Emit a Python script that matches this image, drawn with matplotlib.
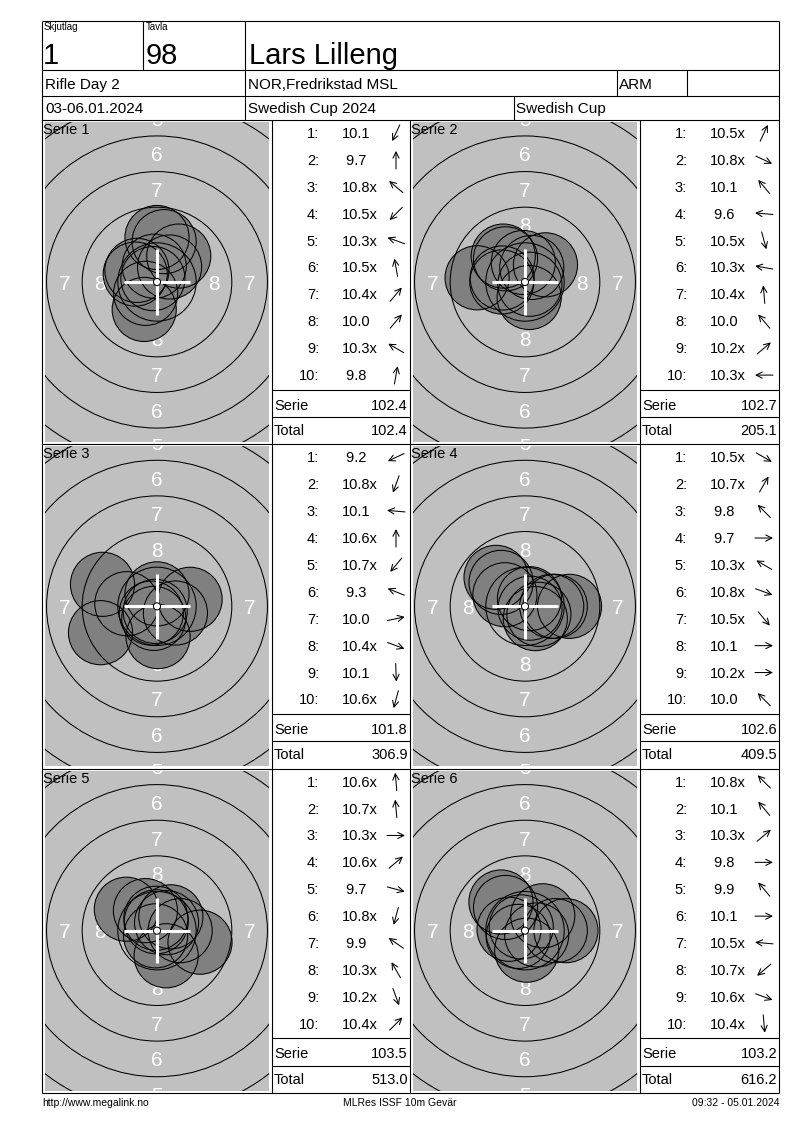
import numpy as np
import matplotlib.pyplot as plt
from matplotlib.patches import Circle

plt.rcParams['font.family'] = ['Liberation Sans', 'DejaVu Sans']

# header fields
relay, lane, shooter = '1', '98', 'Lars Lilleng'
event, club, klass = 'Rifle Day 2', 'NOR,Fredrikstad MSL', 'ARM'
dates, competition, cup = '03-06.01.2024', 'Swedish Cup 2024', 'Swedish Cup'
footer_left, footer_mid, footer_right = 'http://www.megalink.no', 'MLRes ISSF 10m Gevär', '09:32 - 05.01.2024'

# shot values ("x" = inner ten) and shot direction in degrees (0 = right, 90 = up)
s1_scores = ['10.1', '9.7', '10.8x', '10.5x', '10.3x', '10.5x', '10.4x', '10.0', '10.3x', '9.8']
s1_dirs = [245, 90, 140, 225, 160, 100, 50, 50, 150, 80]
s2_scores = ['10.5x', '10.8x', '10.1', '9.6', '10.5x', '10.3x', '10.4x', '10.0', '10.2x', '10.3x']
s2_dirs = [65, 335, 130, 175, 285, 170, 95, 130, 40, 180]
s3_scores = ['9.2', '10.8x', '10.1', '10.6x', '10.7x', '9.3', '10.0', '10.4x', '10.1', '10.6x']
s3_dirs = [205, 250, 175, 90, 230, 158, 12, 340, 272, 255]
s4_scores = ['10.5x', '10.7x', '9.8', '9.7', '10.3x', '10.8x', '10.5x', '10.1', '10.2x', '10.0']
s4_dirs = [330, 60, 135, 0, 150, 340, 310, 0, 0, 135]
s5_scores = ['10.6x', '10.7x', '10.3x', '10.6x', '9.7', '10.8x', '9.9', '10.3x', '10.2x', '10.4x']
s5_dirs = [95, 95, 0, 40, 345, 255, 145, 120, 290, 45]
s6_scores = ['10.8x', '10.1', '10.3x', '9.8', '9.9', '10.1', '10.5x', '10.7x', '10.6x', '10.4x']
s6_dirs = [135, 130, 40, 0, 130, 0, 175, 220, 340, 275]

serie_sums = [102.4, 102.7, 101.8, 102.6, 103.5, 103.2]
totals = [102.4, 205.1, 306.9, 409.5, 513.0, 616.2]

all_scores = [s1_scores, s2_scores, s3_scores, s4_scores, s5_scores, s6_scores]
all_dirs = [s1_dirs, s2_dirs, s3_dirs, s4_dirs, s5_dirs, s6_dirs]

W, H = 800, 1130
PX = 14.25          # pixels per mm on the target pictures
PELLET = 2.25       # pellet radius, mm
BLOCK = (1093 - 120) / 3
cols = [(42, 272, 410), (410, 640, 779)]


def ring_radius(n):
    # outer radius of ring n (10m air rifle), mm
    return 0.25 + (10 - n) * 2.5


def shot_distance(score):
    # centre distance for a decimal score, mm
    return (10.9 - score) * 2.5 + 0.125


fig = plt.figure(figsize=(W / 100, H / 100), dpi=100)
page = fig.add_axes([0, 0, 1, 1], zorder=10)
page.set_xlim(0, W)
page.set_ylim(H, 0)
page.axis('off')


def hline(y, x0, x1):
    page.plot([x0, x1], [y, y], color='black', lw=0.8, solid_capstyle='butt')


def vline(x, y0, y1):
    page.plot([x, x], [y0, y1], color='black', lw=0.8, solid_capstyle='butt')


# frame
for y in (21, 70, 96, 120):
    hline(y, 42, 779)
for r in range(3):
    hline(120 + BLOCK * (r + 1), 42, 779)
vline(42, 21, 1093)
vline(779, 21, 1093)
vline(143, 21, 70)
vline(245, 21, 120)
vline(617, 70, 96)
vline(687, 70, 96)
vline(514, 96, 120)
for x in (272, 410, 640):
    vline(x, 120, 1093)

# header
page.text(44, 30, 'Skjutlag', fontsize=7)
page.text(146, 30, 'Tavla', fontsize=7)
page.text(43, 64, relay, fontsize=21)
page.text(146, 64, lane, fontsize=21)
page.text(249, 64, shooter, fontsize=21)
page.text(45, 89, event, fontsize=11)
page.text(248, 89, club, fontsize=11)
page.text(619, 89, klass, fontsize=11)
page.text(45, 113, dates, fontsize=11)
page.text(248, 113, competition, fontsize=11)
page.text(516, 113, cup, fontsize=11)

# footer
page.text(42, 1106, footer_left, fontsize=7.5)
page.text(400, 1106, footer_mid, fontsize=7.5, ha='center')
page.text(779, 1106, footer_right, fontsize=7.5, ha='right')

label_em = 15 / 72 * 100 / PX  # mm

for k in range(6):
    r, c = divmod(k, 2)
    top = 120 + r * BLOCK
    x0, lx, rx = cols[c]

    # target picture
    bx, by, bw, bh = x0 + 3, top + 2, 224, 320
    ax = fig.add_axes([bx / W, 1 - (by + bh) / H, bw / W, bh / H])
    hx, hy = bw / 2 / PX, bh / 2 / PX
    ax.set_xlim(-hx, hx)
    ax.set_ylim(-hy, hy)
    ax.set_facecolor('#c0c0c0')
    ax.set_xticks([])
    ax.set_yticks([])
    for sp in ax.spines.values():
        sp.set_visible(False)

    for n in (5, 6, 7, 8):
        m = (ring_radius(n) + ring_radius(n + 1)) / 2
        for px, py in ((0, m), (0, -m), (m, 0), (-m, 0)):
            # only labels that show at least partly inside the picture
            if abs(px) > hx or abs(py) > hy + 0.5 * label_em:
                continue
            ax.text(px, py - 0.36 * label_em, str(n), color='white', fontsize=15,
                    ha='center', va='baseline', clip_on=True, zorder=1)

    vals = [float(s.rstrip('x')) for s in all_scores[k]]
    ang = np.radians(all_dirs[k])
    d = np.array([shot_distance(v) for v in vals])
    sx, sy = d * np.cos(ang), d * np.sin(ang)
    for x, y in zip(sx, sy):
        ax.add_patch(Circle((x, y), PELLET, fc='#808080', ec='none', zorder=2))
    for n in range(4, 10):
        ax.add_patch(Circle((0, 0), ring_radius(n), fill=False, ec='black', lw=0.75, zorder=3))
    for x, y in zip(sx, sy):
        ax.add_patch(Circle((x, y), PELLET, fill=False, ec='black', lw=0.75, zorder=4))
    ax.plot([-2.3, 2.3], [0, 0], color='white', lw=2.2, solid_capstyle='butt', zorder=5)
    ax.plot([0, 0], [-2.3, 2.3], color='white', lw=2.2, solid_capstyle='butt', zorder=5)
    ax.add_patch(Circle((0, 0), ring_radius(10), fc='white', ec='black', lw=0.75, zorder=6))

    page.text(x0 + 1, top + 14, f'Serie {k + 1}', fontsize=10.5)

    # shot list
    for i, (s, a) in enumerate(zip(all_scores[k], all_dirs[k])):
        yb = top + 18 + 26.9 * i
        page.text(lx + 47, yb, f'{i + 1}:', ha='right', fontsize=10.5)
        txt = f'{float(s.rstrip("x")):4.1f}' + ('x' if s.endswith('x') else '')
        page.text(lx + 70, yb, txt, fontsize=10.5)
        t = np.radians(a)
        dx, dy = 9 * np.cos(t), -9 * np.sin(t)
        cx, cy = lx + 124, yb - 5
        page.annotate('', xy=(cx + dx, cy + dy), xytext=(cx - dx, cy - dy),
                      arrowprops=dict(arrowstyle='->', color='black', lw=0.75,
                                      shrinkA=0, shrinkB=0, mutation_scale=11))

    hline(top + 269.7, lx, rx)
    hline(top + 297, lx, rx)
    page.text(lx + 2, top + 289.5, 'Serie', fontsize=10.5)
    page.text(rx - 2, top + 289.5, f'{serie_sums[k]:.1f}', ha='right', fontsize=10.5)
    page.text(lx + 2, top + 315, 'Total', fontsize=10.5)
    page.text(rx - 2, top + 315, f'{totals[k]:.1f}', ha='right', fontsize=10.5)

fig.savefig('out.png', dpi=100, facecolor='white')
